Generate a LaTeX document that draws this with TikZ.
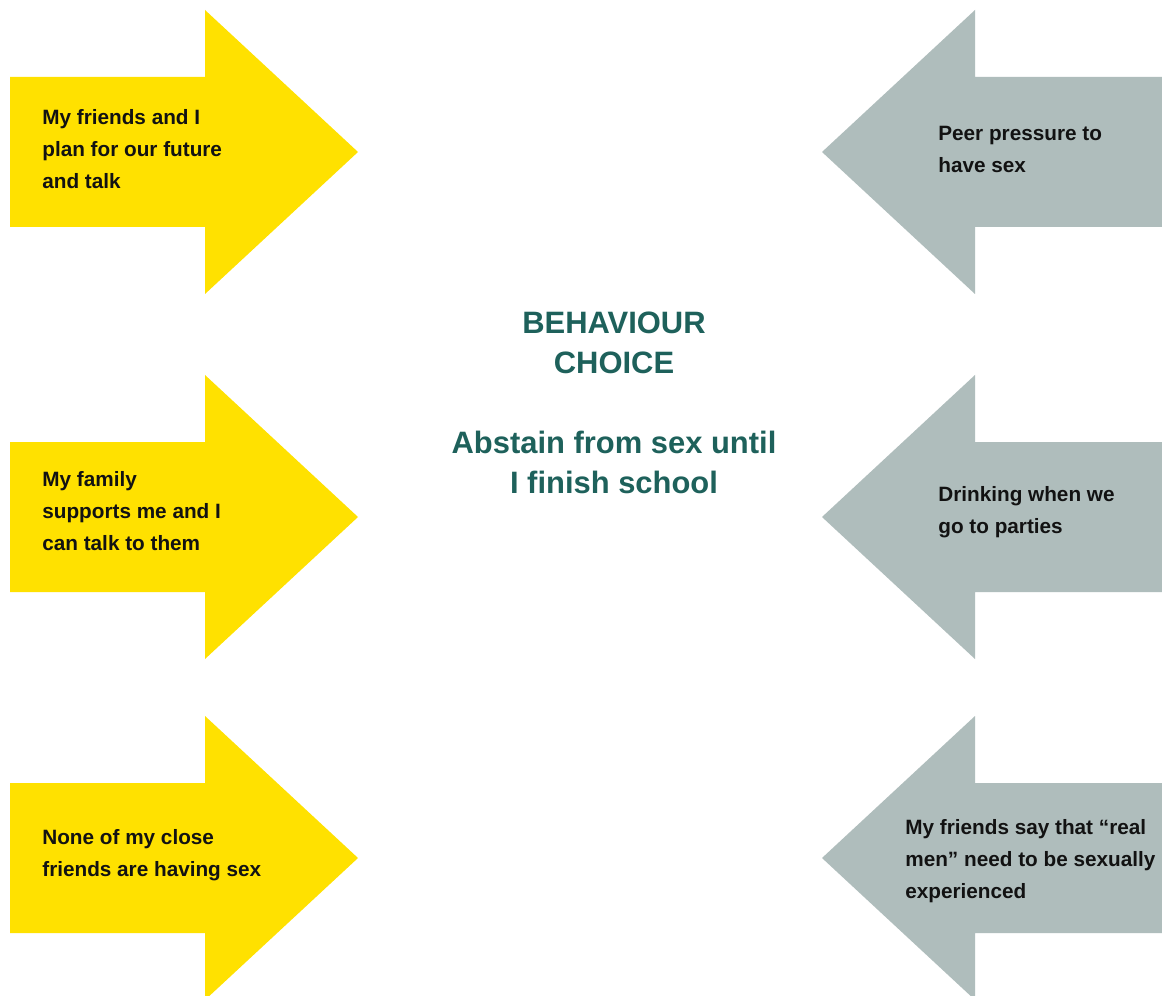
\documentclass[tikz,border=0pt]{standalone}
\usepackage{fontspec}
\setmainfont{Liberation Sans}
\usetikzlibrary{positioning}

\definecolor{pushyellow}{HTML}{FFE100}
\definecolor{pullgrey}{HTML}{AFBDBC}
\definecolor{choiceteal}{HTML}{1E615B}

% half body, half head and head length of the block arrows
\newcommand\Hb{75}
\newcommand\Hh{142}
\newcommand\Hl{153}

% right pointing arrow, centred on #1
\newcommand\pusharrow[1]{%
  \fill[pushyellow] (10,#1-\Hb) -- (205,#1-\Hb) -- (205,#1-\Hh) -- (205+\Hl,#1)
    -- (205,#1+\Hh) -- (205,#1+\Hb) -- (10,#1+\Hb) -- cycle;}
% left pointing arrow, centred on #1
\newcommand\pullarrow[1]{%
  \fill[pullgrey] (1162,#1-\Hb) -- (975,#1-\Hb) -- (975,#1-\Hh) -- (975-\Hl,#1)
    -- (975,#1+\Hh) -- (975,#1+\Hb) -- (1162,#1+\Hb) -- cycle;}

\begin{document}
\begin{tikzpicture}[x=0.02cm,y=-0.02cm]

  \tikzstyle{factor}=[anchor=west,align=left,inner sep=0pt,text=black!93,
                      font=\bfseries\fontsize{11.8}{18.2}\selectfont]
  \tikzstyle{choice}=[align=center,inner sep=0pt,text=choiceteal,
                      font=\bfseries\fontsize{17.6}{22.8}\selectfont]

  \useasboundingbox (0,0) rectangle (1162,996);
  \fill[white] (0,0) rectangle (1162,996);

  \foreach \y in {152,517,858} {
    \pusharrow{\y}
    \pullarrow{\y}
  }

  \node[factor] (plan)     at (42,149)  {My friends and I\\plan for our future\\and talk};
  \node[factor] (family)   at (42,511)  {My family\\supports me and I\\can talk to them};
  \node[factor] (close)    at (42,855)  {None of my close\\friends are having sex};

  \node[factor] (pressure) at (938,149) {Peer pressure to\\have sex};
  \node[factor] (drinking) at (938,512) {Drinking when we\\go to parties};
  \node[factor] (realmen)  at (905,861) {My friends say that “real\\men” need to be sexually\\experienced};

  \node[choice] (goal) at (614,403) {BEHAVIOUR\\CHOICE\\[22.8pt]Abstain from sex until\\I finish school};

\end{tikzpicture}
\end{document}
